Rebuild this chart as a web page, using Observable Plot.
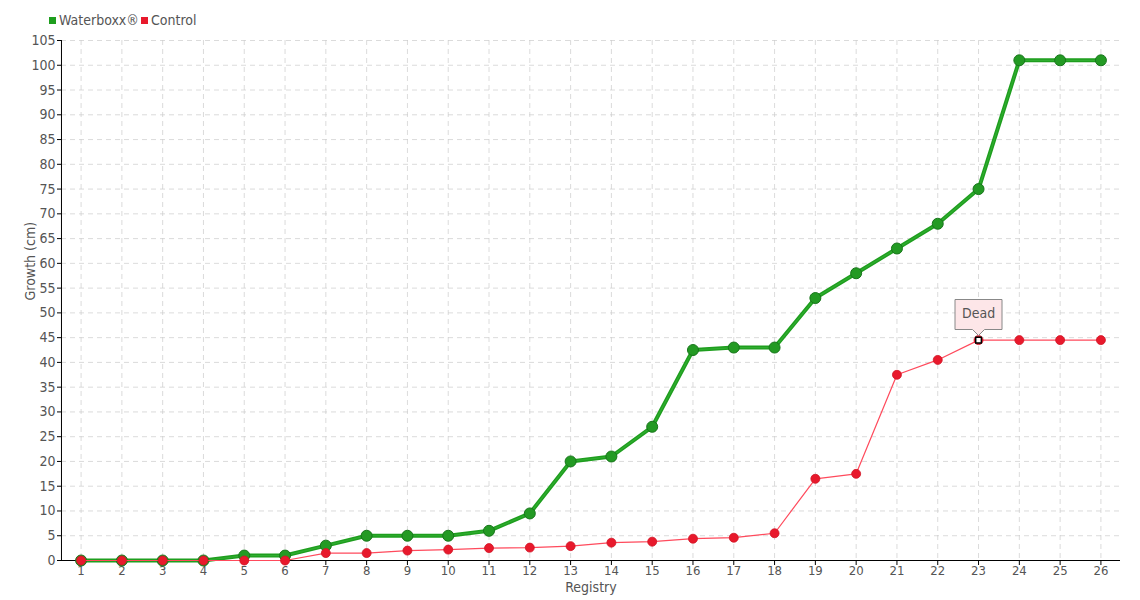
<!DOCTYPE html>
<html><head><meta charset="utf-8">
<script src="https://cdn.jsdelivr.net/npm/d3@7"></script>
<script src="https://cdn.jsdelivr.net/npm/@observablehq/plot@0.6"></script>
<style>
body{margin:0;background:#fff;font-family:"DejaVu Sans Condensed","Liberation Sans Narrow",sans-serif;}
#legend{height:30px;position:relative;font-size:14px;color:#555;}
#legend span{position:absolute;top:12px;}
.sw{display:inline-block;width:7px;height:7px;margin-right:3px;vertical-align:1px;}
</style></head><body>
<div id="legend"></div>
<div id="chart"></div>
<script>
const registry = [1,2,3,4,5,6,7,8,9,10,11,12,13,14,15,16,17,18,19,20,21,22,23,24,25,26];
const waterboxx = [0,0,0,0,1,1,3,5,5,5,6,9.5,20,21,27,42.5,43,43,53,58,63,68,75,101,101,101];
const control = [0,0,0,0,0,0,1.5,1.5,2,2.2,2.5,2.6,2.9,3.6,3.8,4.4,4.6,5.5,16.5,17.5,37.5,40.5,44.5,44.5,44.5,44.5];
const yTicks = d3.range(0,106,5);
const seriesNames = ["Waterboxx®","Control"];
const seriesColors = ["#1e9e1e","#e8192c"];
const annotation = {x:23, y:44.5, label:"Dead"};

const wData = registry.map((r,i)=>({x:r,y:waterboxx[i]}));
const cData = registry.map((r,i)=>({x:r,y:control[i]}));

const leg = document.getElementById("legend");
leg.innerHTML = `<span style="left:49px"><i class="sw" style="background:${seriesColors[0]}"></i>${seriesNames[0]}</span>
<span style="left:141px"><i class="sw" style="background:${seriesColors[1]}"></i>${seriesNames[1]}</span>`;

const plot = Plot.plot({
  width:1140, height:570,
  marginTop:10, marginBottom:40, marginLeft:61, marginRight:20,
  style:{fontFamily:'"DejaVu Sans Condensed","Liberation Sans Narrow",sans-serif', fontSize:"14px", color:"#555"},
  x:{type:"point", domain:registry, padding:0.48, round:false, label:null},
  y:{domain:[0,105], label:null},
  marks:[
    Plot.gridX(registry,{stroke:"#ccc", strokeOpacity:0.7, strokeDasharray:"5,4"}),
    Plot.gridY(yTicks,{stroke:"#ccc", strokeOpacity:0.7, strokeDasharray:"5,4"}),
    Plot.axisX(registry,{tickSize:5, tickPadding:0, stroke:"#000", fill:"#555", fontSize:13}),
    Plot.axisY(yTicks,{tickSize:4, tickPadding:2, stroke:"#000", fill:"#555", fontSize:14}),
    Plot.ruleY([0],{stroke:"#000"}),
    Plot.ruleX([registry[0]],{stroke:"#000", dx:-19.6}),
    Plot.text(["Registry"],{frameAnchor:"bottom", dy:31, fill:"#555", fontSize:14}),
    Plot.text(["Growth (cm)"],{frameAnchor:"left", dx:-31, rotate:-90, fill:"#555", fontSize:14}),
    Plot.line(wData,{x:"x", y:"y", stroke:"#1e9e1e", strokeWidth:4}),
    Plot.line(wData,{x:"x", y:"y", stroke:"#3cb83c", strokeWidth:1.2, strokeOpacity:0.6}),
    Plot.dot(wData,{x:"x", y:"y", r:5.5, fill:"#239a23", stroke:"#17751a", strokeWidth:1}),
    Plot.line(cData,{x:"x", y:"y", stroke:"#ff4a5c", strokeWidth:1.2}),
    Plot.dot(cData,{x:"x", y:"y", r:4.5, fill:"#e8192c", stroke:"#d01425", strokeWidth:0.8}),
    Plot.dot([annotation],{x:"x", y:"y", symbol:"square", r:3.2, fill:"#fff", stroke:"#000", strokeWidth:1.5}),
    Plot.tip([annotation],{x:"x", y:"y", title:"label", anchor:"bottom", dy:-5, fill:"#fde6e8", stroke:"#888", textPadding:7, fontSize:14, pathFilter:null})
  ]
});
document.getElementById("chart").appendChild(plot);
</script>
</body></html>
